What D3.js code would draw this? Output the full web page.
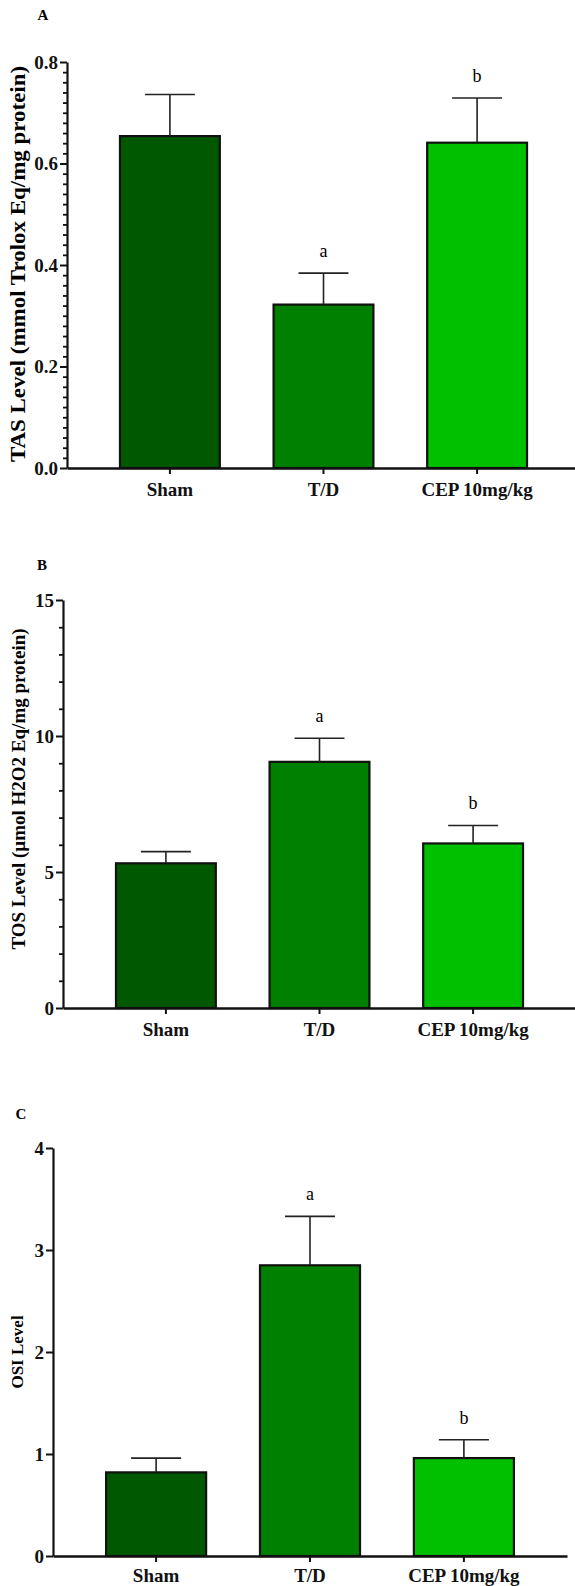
<!DOCTYPE html>
<html lang="en">
<head>
  <meta charset="UTF-8">
  <title>TAS, TOS and OSI levels</title>
  <script src="https://d3js.org/d3.v7.min.js"></script>
  <style>
    body { margin: 0; background: #fff; }
    svg text { font-family: "Liberation Serif", "DejaVu Serif", serif !important; }
  </style>
</head>
<body>
  <svg id="chart" width="575" height="1586" font-family="Liberation Serif"></svg>

  <script>
    const groups = ["Sham", "T/D", "CEP 10mg/kg"];
    const barColors = ["#005800", "#008000", "#00c000"];

    // panel A - TAS
    const tasMeans = [0.654, 0.322, 0.641];
    const tasErrors = [0.082, 0.062, 0.088];
    const tasLetters = ["", "a", "b"];

    // panel B - TOS
    const tosMeans = [5.32, 9.05, 6.05];
    const tosErrors = [0.43, 0.87, 0.66];
    const tosLetters = ["", "a", "b"];

    // panel C - OSI
    const osiMeans = [0.82, 2.85, 0.96];
    const osiErrors = [0.14, 0.48, 0.18];
    const osiLetters = ["", "a", "b"];

    const FONT = "'Liberation Serif', 'DejaVu Serif', serif";
    const svg = d3.select("#chart");

    function drawPanel(p) {
      const g = svg.append("g");

      const x = d3.scaleBand()
        .domain(groups)
        .range([p.left, p.right])
        .paddingInner(0.35)
        .paddingOuter(0.345);

      const y = d3.scaleLinear()
        .domain([0, p.max])
        .range([p.bottom, p.top]);

      const data = groups.map((d, i) => ({
        group: d, mean: p.means[i], err: p.errors[i], letter: p.letters[i], color: barColors[i]
      }));

      // panel letter
      g.append("text")
        .attr("x", p.letterX)
        .attr("y", p.letterY)
        .attr("text-anchor", "middle")
        .style("font-family", FONT)
        .style("font-size", "15px")
        .style("font-weight", "bold")
        .text(p.name);

      // bars
      g.selectAll("rect.bar")
        .data(data)
        .enter().append("rect")
        .attr("class", "bar")
        .attr("x", d => x(d.group))
        .attr("width", x.bandwidth())
        .attr("y", d => y(d.mean))
        .attr("height", d => y(0) - y(d.mean))
        .attr("fill", d => d.color)
        .attr("stroke", "#111")
        .attr("stroke-width", 2.2);

      // error bars (upper only)
      const errG = g.selectAll("g.err")
        .data(data)
        .enter().append("g")
        .attr("class", "err")
        .attr("stroke", "#222")
        .attr("stroke-width", 1.6);

      errG.append("line")
        .attr("x1", d => x(d.group) + x.bandwidth() / 2)
        .attr("x2", d => x(d.group) + x.bandwidth() / 2)
        .attr("y1", d => y(d.mean))
        .attr("y2", d => y(d.mean + d.err));

      errG.append("line")
        .attr("x1", d => x(d.group) + x.bandwidth() / 4)
        .attr("x2", d => x(d.group) + x.bandwidth() * 3 / 4)
        .attr("y1", d => y(d.mean + d.err))
        .attr("y2", d => y(d.mean + d.err));

      // significance letters
      g.selectAll("text.sig")
        .data(data.filter(d => d.letter))
        .enter().append("text")
        .attr("class", "sig")
        .attr("x", d => x(d.group) + x.bandwidth() / 2)
        .attr("y", d => y(d.mean + d.err) - 16)
        .attr("text-anchor", "middle")
        .style("font-family", FONT)
        .style("font-size", "18px")
        .text(d => d.letter);

      // minor ticks
      if (p.minor) {
        g.append("g")
          .attr("transform", "translate(" + p.left + ",0)")
          .call(d3.axisLeft(y).tickValues(p.minor).tickSize(4).tickFormat(""))
          .call(a => a.select(".domain").remove())
          .selectAll("line").attr("stroke", "#111").attr("stroke-width", 1.8);
      }

      // y axis
      const yAxis = g.append("g")
        .attr("transform", "translate(" + p.left + ",0)")
        .call(d3.axisLeft(y).tickValues(p.ticks).tickSize(7).tickSizeOuter(0).tickPadding(2).tickFormat(p.format));
      yAxis.attr("font-family", null);
      yAxis.select(".domain").attr("stroke", "#111").attr("stroke-width", 2.2);
      yAxis.selectAll("line").attr("stroke", "#111").attr("stroke-width", 2);
      yAxis.selectAll("text")
        .attr("fill", "#111")
        .style("font-family", FONT)
        .style("font-size", "19px")
        .style("font-weight", "bold");

      // x axis
      const xAxis = g.append("g")
        .attr("transform", "translate(0," + p.bottom + ")")
        .call(d3.axisBottom(x).tickSize(6).tickSizeOuter(0));
      xAxis.attr("font-family", null);
      xAxis.select(".domain").attr("stroke", "#111").attr("stroke-width", 2.6);
      xAxis.selectAll("line").attr("stroke", "#111").attr("stroke-width", 2);
      xAxis.selectAll("text")
        .attr("y", p.labelOffset)
        .attr("dy", 0)
        .attr("fill", "#111")
        .style("font-family", FONT)
        .style("font-size", "19px")
        .style("font-weight", "bold");

      // y title (stretched a little along its baseline, as in the original figure)
      g.append("text")
        .attr("transform", "translate(" + p.titleX + "," + p.titleY + ") rotate(-90) scale(" + p.titleStretch + ",1)")
        .attr("text-anchor", "middle")
        .style("font-family", FONT)
        .style("font-size", p.titleSize + "px")
        .style("font-weight", "bold")
        .text(p.title);
    }

    drawPanel({
      name: "A", letterX: 43, letterY: 20,
      left: 67, right: 580, top: 62, bottom: 468, max: 0.8,
      ticks: [0, 0.2, 0.4, 0.6, 0.8],
      minor: d3.range(1, 40).map(i => i * 0.02).filter((v, i) => (i + 1) % 10 !== 0),
      format: d3.format(".1f"),
      means: tasMeans, errors: tasErrors, letters: tasLetters,
      title: "TAS Level (mmol Trolox Eq/mg protein)", titleX: 25, titleY: 264, titleSize: 20.5, titleStretch: 1.12,
      labelOffset: 28
    });

    drawPanel({
      name: "B", letterX: 42, letterY: 570,
      left: 63, right: 576, top: 600, bottom: 1008, max: 15,
      ticks: [0, 5, 10, 15],
      minor: d3.range(1, 15).filter(v => v % 5 !== 0),
      format: d3.format("d"),
      means: tosMeans, errors: tosErrors, letters: tosLetters,
      title: "TOS Level (\u00b5mol H2O2 Eq/mg protein)", titleX: 25, titleY: 789, titleSize: 19, titleStretch: 1,
      labelOffset: 28
    });

    drawPanel({
      name: "C", letterX: 21, letterY: 1119,
      left: 53, right: 567, top: 1148, bottom: 1556, max: 4,
      ticks: [0, 1, 2, 3, 4],
      minor: null,
      format: d3.format("d"),
      means: osiMeans, errors: osiErrors, letters: osiLetters,
      title: "OSI Level", titleX: 23, titleY: 1352, titleSize: 17, titleStretch: 1,
      labelOffset: 26
    });
  </script>
</body>
</html>
